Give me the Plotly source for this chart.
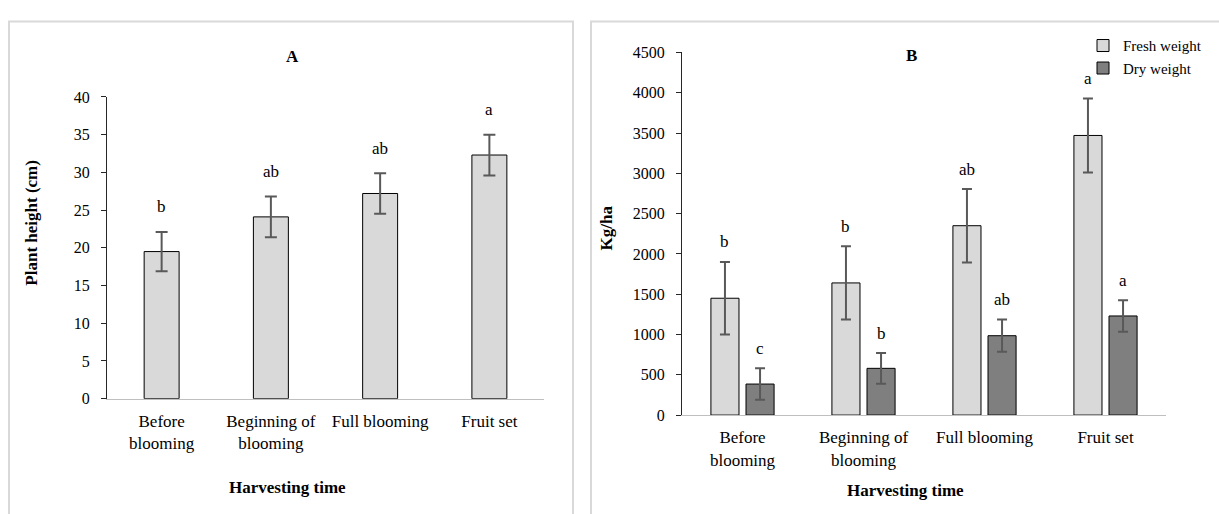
import plotly.graph_objects as go

# ---------------- data ----------------
categories = ["Before<br>blooming", "Beginning of<br>blooming", "Full blooming", "Fruit set"]

height_mean = [19.5, 24.1, 27.2, 32.3]
height_err = [2.6, 2.7, 2.7, 2.7]
height_letters = ["b", "ab", "ab", "a"]

fresh_mean = [1450, 1640, 2350, 3470]
fresh_err = [450, 455, 455, 460]
fresh_letters = ["b", "b", "ab", "a"]

dry_mean = [385, 580, 985, 1230]
dry_err = [195, 190, 200, 195]
dry_letters = ["c", "b", "ab", "a"]

# ---------------- style ----------------
W, H = 1219, 514
SERIF = "Liberation Serif"
FRESH_COLOR = "#d9d9d9"
DRY_COLOR = "#7f7f7f"
ERR_COLOR = "#595959"
BARGAP = 0.42
BARGROUPGAP = 0.2


def px_x(p):
    return p / W


def px_y(p):
    return (H - p) / H


fig = go.Figure()

err_style = dict(type="data", visible=True, color=ERR_COLOR, thickness=2)

fig.add_trace(go.Bar(
    x=categories, y=height_mean, width=0.32,
    error_y=dict(array=height_err, width=6, **err_style),
    marker=dict(color=FRESH_COLOR, line=dict(color="#000000", width=1)),
    showlegend=False, xaxis="x", yaxis="y", name="Plant height",
))

fig.add_trace(go.Bar(
    x=categories, y=fresh_mean, name="Fresh weight",
    error_y=dict(array=fresh_err, width=5, **err_style),
    marker=dict(color=FRESH_COLOR, line=dict(color="#000000", width=1)),
    xaxis="x2", yaxis="y2",
))
fig.add_trace(go.Bar(
    x=categories, y=dry_mean, name="Dry weight",
    error_y=dict(array=dry_err, width=5, **err_style),
    marker=dict(color=DRY_COLOR, line=dict(color="#000000", width=1)),
    xaxis="x2", yaxis="y2",
))

tick_font = dict(family=SERIF, size=16, color="#000000")
cat_font = dict(family=SERIF, size=17, color="#000000")
letter_font = dict(family=SERIF, size=17, color="#000000")

common_y = dict(
    showgrid=False, zeroline=False, showline=True, linecolor="#262626", linewidth=1,
    ticks="outside", ticklen=5, tickcolor="#262626", tickfont=tick_font,
    ticklabelstandoff=8, fixedrange=True,
)
common_x = dict(
    showgrid=False, zeroline=False, showline=True, linecolor="#bfbfbf", linewidth=1,
    ticks="", tickfont=cat_font, type="category", range=[-0.5, 3.5], fixedrange=True,
    ticklabelstandoff=7,
)

annotations = []
# letters panel A
for i, (m, e, t) in enumerate(zip(height_mean, height_err, height_letters)):
    annotations.append(dict(x=i, y=m + e, xref="x", yref="y", text=t, showarrow=False,
                            yshift=25, yanchor="middle", font=letter_font))
# letters panel B
slot = (1 - BARGAP) / 2
for i in range(len(categories)):
    annotations.append(dict(x=i - slot / 2, y=fresh_mean[i] + fresh_err[i], xref="x2", yref="y2",
                            text=fresh_letters[i], showarrow=False, yshift=20, yanchor="middle",
                            font=letter_font))
    annotations.append(dict(x=i + slot / 2, y=dry_mean[i] + dry_err[i], xref="x2", yref="y2",
                            text=dry_letters[i], showarrow=False, yshift=20, yanchor="middle",
                            font=letter_font))

bold = dict(family=SERIF, size=17, color="#000000", weight="bold")
annotations += [
    dict(x=px_x(292), y=px_y(50), xref="paper", yref="paper", text="<b>A</b>", showarrow=False,
         font=bold, xanchor="center", yanchor="middle"),
    dict(x=px_x(911), y=px_y(49), xref="paper", yref="paper", text="<b>B</b>", showarrow=False,
         font=bold, xanchor="center", yanchor="middle"),
    dict(x=px_x(32), y=px_y(222), xref="paper", yref="paper", text="<b>Plant height (cm)</b>",
         showarrow=False, textangle=-90, font=bold, xanchor="center", yanchor="middle"),
    dict(x=px_x(606), y=px_y(228), xref="paper", yref="paper", text="<b>Kg/ha</b>",
         showarrow=False, textangle=-90, font=bold, xanchor="center", yanchor="middle"),
    dict(x=px_x(287), y=px_y(496), xref="paper", yref="paper", text="<b>Harvesting time</b>",
         showarrow=False, font=bold, xanchor="center", yanchor="middle"),
    dict(x=px_x(905), y=px_y(499), xref="paper", yref="paper", text="<b>Harvesting time</b>",
         showarrow=False, font=bold, xanchor="center", yanchor="middle"),
]

shapes = [
    dict(type="rect", xref="paper", yref="paper", x0=px_x(9), x1=px_x(573), y0=-0.1, y1=px_y(14),
         line=dict(color="#d9d9d9", width=2), layer="below"),
    dict(type="rect", xref="paper", yref="paper", x0=px_x(591), x1=1.05, y0=-0.1, y1=px_y(14),
         line=dict(color="#d9d9d9", width=2), layer="below"),
]

fig.update_layout(
    width=W, height=H, autosize=False,
    margin=dict(l=0, r=0, t=0, b=0),
    paper_bgcolor="#ffffff", plot_bgcolor="#ffffff",
    barmode="group", bargap=BARGAP, bargroupgap=BARGROUPGAP,
    font=dict(family=SERIF, color="#000000"),
    xaxis=dict(domain=[px_x(107), px_x(544)], anchor="y", **common_x),
    yaxis=dict(domain=[px_y(404), px_y(92)], anchor="x", range=[0, 40], dtick=5, tick0=0, **common_y),
    xaxis2=dict(domain=[px_x(682), px_x(1166)], anchor="y2", **common_x),
    yaxis2=dict(domain=[px_y(421), px_y(46)], anchor="x2", range=[0, 4500], dtick=500, tick0=0, **common_y),
    legend=dict(x=px_x(1083), y=px_y(22), xanchor="left", yanchor="top",
                font=dict(family=SERIF, size=15, color="#000000"),
                bgcolor="rgba(0,0,0,0)", borderwidth=0, itemwidth=30, tracegroupgap=0),
    annotations=annotations,
    shapes=shapes,
)

fig.write_html(
    "out.html",
    config={"displayModeBar": False, "responsive": False},
    post_script=(
        "var s=document.documentElement.style;s.margin='0';s.padding='0';s.overflow='hidden';"
        "var b=document.body.style;b.margin='0';b.padding='0';b.overflow='hidden';"
        "var g=document.getElementById('{plot_id}');"
        "g.style.position='fixed';g.style.top='0px';g.style.left='0px';"
    ),
)
